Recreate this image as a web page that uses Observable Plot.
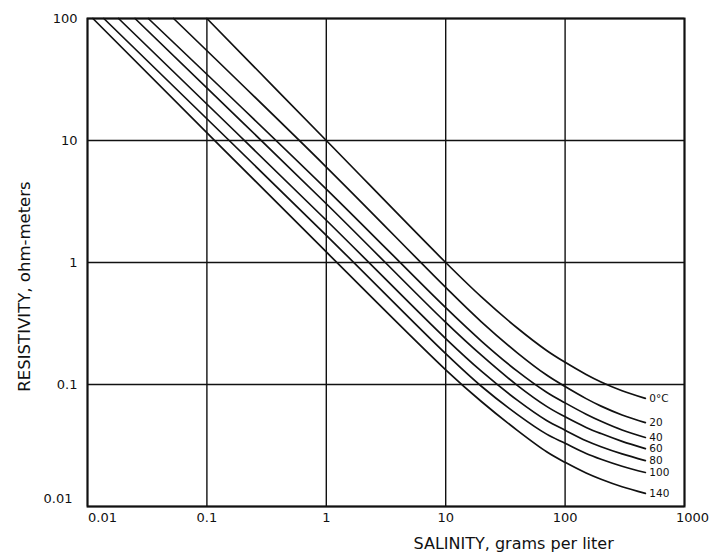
<!DOCTYPE html>
<html><head><meta charset="utf-8">
<script src="https://cdn.jsdelivr.net/npm/d3@7"></script>
<script src="https://cdn.jsdelivr.net/npm/@observablehq/plot@0.6"></script>
<style>
html,body{margin:0;padding:0;background:#fff}
#chart svg{display:block;font-family:"DejaVu Sans",sans-serif}
</style>
</head><body><div id="chart"></div>
<script>
// Curve labels (temperature, °C)
const temperatures = ["0°C", "20", "40", "60", "80", "100", "140"];
// Salinity where each curve leaves the top edge (resistivity = 100)
const startSalinity = [0.1, 0.0526, 0.0323, 0.025, 0.0182, 0.0137, 0.0111];
const startResistivity = 100;
// Shared salinity samples, grams per liter
const salinityGrid = [1, 10, 20, 40, 70, 100, 150, 200, 300, 470];
// Resistivity, ohm-meters, for each curve at salinityGrid
const res0   = [10,   1,     0.52,   0.289,  0.19,   0.152,  0.121,  0.105,  0.089,  0.077];
const res20  = [6.06, 0.625, 0.325,  0.181,  0.1195, 0.0962, 0.0766, 0.0665, 0.0563, 0.0487];
const res40  = [4.0,  0.426, 0.226,  0.128,  0.0864, 0.0707, 0.0571, 0.050,  0.0424, 0.0368];
const res60  = [3.03, 0.323, 0.173,  0.098,  0.0662, 0.0543, 0.0445, 0.0396, 0.0342, 0.0298];
const res80  = [2.22, 0.238, 0.128,  0.0741, 0.0507, 0.0422, 0.0346, 0.0309, 0.027,  0.0238];
const res100 = [1.67, 0.179, 0.0963, 0.0567, 0.0392, 0.033,  0.0272, 0.0244, 0.0214, 0.019];
const res140 = [1.22, 0.132, 0.0722, 0.0419, 0.0281, 0.023,  0.0188, 0.0167, 0.0145, 0.0128];
const curves = [res0, res20, res40, res60, res80, res100, res140];

const xTicks = [0.01, 0.1, 1, 10, 100, 1000];
const xTickLabels = ["0.01", "0.1", "1", "10", "100", "1000"];
const yTicks = [0.01, 0.1, 1, 10, 100];
const yTickLabels = ["0.01", "0.1", "1", "10", "100"];
const xTitle = "SALINITY, grams per liter";
const yTitle = "RESISTIVITY, ohm-meters";

const rows = [];
curves.forEach((vals, i) => {
  rows.push({t: temperatures[i], s: startSalinity[i], r: startResistivity});
  salinityGrid.forEach((s, j) => rows.push({t: temperatures[i], s, r: vals[j]}));
});
const ends = curves.map((vals, i) => ({t: temperatures[i], s: salinityGrid[salinityGrid.length - 1], r: vals[vals.length - 1]}));

const xFmt = d => xTickLabels[xTicks.indexOf(d)];
const yFmt = d => yTickLabels[yTicks.indexOf(d)];

const chart = Plot.plot({
  width: 713,
  height: 559,
  marginLeft: 87,
  marginRight: 29,
  marginTop: 18,
  marginBottom: 53,
  style: {fontFamily: "DejaVu Sans, sans-serif", fontSize: "13px", color: "#111", background: "#fff"},
  x: {type: "log", domain: [0.01, 1000]},
  y: {type: "log", domain: [0.01, 100]},
  marks: [
    Plot.gridX(xTicks, {stroke: "#111", strokeOpacity: 1, strokeWidth: 1.4}),
    Plot.gridY(yTicks, {stroke: "#111", strokeOpacity: 1, strokeWidth: 1.4}),
    Plot.line(rows, {x: "s", y: "r", z: "t", curve: "catmull-rom", stroke: "#111", strokeWidth: 1.7}),
    Plot.text(ends, {x: "s", y: "r", text: "t", textAnchor: "start", dx: 4, fontSize: 10.5, fill: "#111"}),
    Plot.frame({stroke: "#111", strokeWidth: 2}),
    Plot.axisX([0.01], {tickSize: 0, tickPadding: 6, tickFormat: xFmt, label: null, dx: 15, fontSize: 13}),
    Plot.axisX(xTicks.slice(1, 5), {tickSize: 0, tickPadding: 6, tickFormat: xFmt, label: null, fontSize: 13}),
    Plot.axisX([1000], {tickSize: 0, tickPadding: 6, tickFormat: xFmt, label: null, dx: 8, fontSize: 13}),
    Plot.axisY(yTicks.slice(1), {tickSize: 0, tickPadding: 10, tickFormat: yFmt, label: null, fontSize: 13}),
    Plot.axisY([0.01], {tickSize: 0, tickPadding: 15, tickFormat: yFmt, label: null, dy: -8, fontSize: 13}),
    Plot.text([xTitle], {frameAnchor: "bottom-left", text: d => d, textAnchor: "start", dx: 326, dy: 42, fontSize: 16, fill: "#111"}),
    Plot.text([yTitle], {frameAnchor: "left", text: d => d, textAnchor: "middle", rotate: -90, dx: -63, dy: 24, fontSize: 16.5, fill: "#111"})
  ]
});
document.getElementById("chart").append(chart);
</script>
</body></html>
